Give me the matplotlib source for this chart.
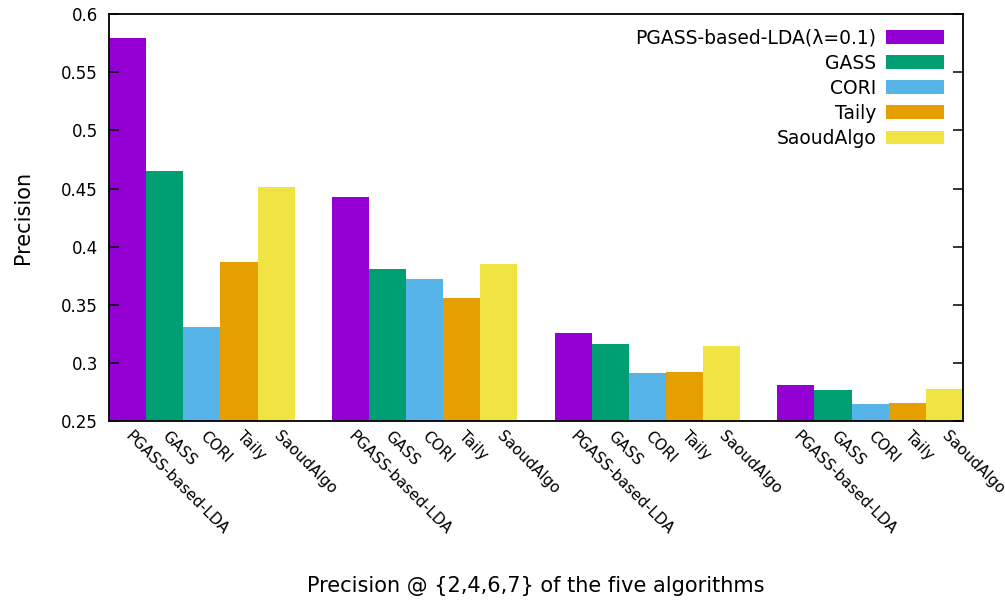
import matplotlib
matplotlib.use("Agg")
import matplotlib.pyplot as plt
import numpy as np

plt.rcParams['font.family'] = ['DejaVu Sans']

algos = ["PGASS-based-LDA", "GASS", "CORI", "Taily", "SaoudAlgo"]
legendNames = ["PGASS-based-LDA(\u03bb=0.1)", "GASS", "CORI", "Taily", "SaoudAlgo"]
colors = ["#9400D3", "#009E73", "#56B4E9", "#E69F00", "#F0E442"]

# precision @ 2, 4, 6, 7 per algorithm
pgass = [0.579, 0.443, 0.326, 0.281]
gass = [0.465, 0.381, 0.316, 0.277]
cori = [0.331, 0.372, 0.291, 0.265]
taily = [0.387, 0.356, 0.292, 0.266]
saoud = [0.451, 0.385, 0.315, 0.278]
series = [pgass, gass, cori, taily, saoud]

yticks = [0.25, 0.3, 0.35, 0.4, 0.45, 0.5, 0.55, 0.6]
yticklabels = ["0.25", "0.3", "0.35", "0.4", "0.45", "0.5", "0.55", "0.6"]

nGroups = len(pgass)
nAlgos = len(algos)
slot = nAlgos + 1

fig = plt.figure(figsize=(10.05, 6.0), dpi=100)
ax = fig.add_axes([0.1085, 0.298, 0.8497, 0.6787])

xpos = []
xlabels = []
for a in range(nAlgos):
    xs = [g * slot + a for g in range(nGroups)]
    ax.bar(xs, [v - 0.25 for v in series[a]], bottom=0.25, width=1.0,
           color=colors[a], label=legendNames[a], linewidth=0)
for g in range(nGroups):
    for a in range(nAlgos):
        xpos.append(g * slot + a)
        xlabels.append(algos[a])

ax.set_xlim(-0.5, nGroups * slot - 1.5)
ax.set_ylim(0.25, 0.6)
ax.set_yticks(yticks)
ax.set_yticklabels(yticklabels, fontsize=12)
ax.set_xticks(xpos)
ax.set_xticklabels(xlabels, rotation=-45, ha='left', va='center',
                   rotation_mode='anchor', fontsize=11)
ax.tick_params(axis='x', length=0, pad=9)
ax.tick_params(axis='y', direction='in', length=7, width=1.1, right=True, pad=8)
for s in ax.spines.values():
    s.set_linewidth(1.3)

ax.set_ylabel("Precision", fontsize=15, labelpad=20)
ax.set_xlabel("Precision @ {2,4,6,7} of the five algorithms", fontsize=15)
ax.xaxis.set_label_coords(0.5, -0.38)

ax.legend(loc='upper right', frameon=False, markerfirst=False, fontsize=13.5,
          handlelength=3.1, handleheight=0.75, handletextpad=0.5,
          labelspacing=0.33, borderaxespad=0.3, bbox_to_anchor=(0.993, 0.997))

fig.savefig("out.png", dpi=100)
